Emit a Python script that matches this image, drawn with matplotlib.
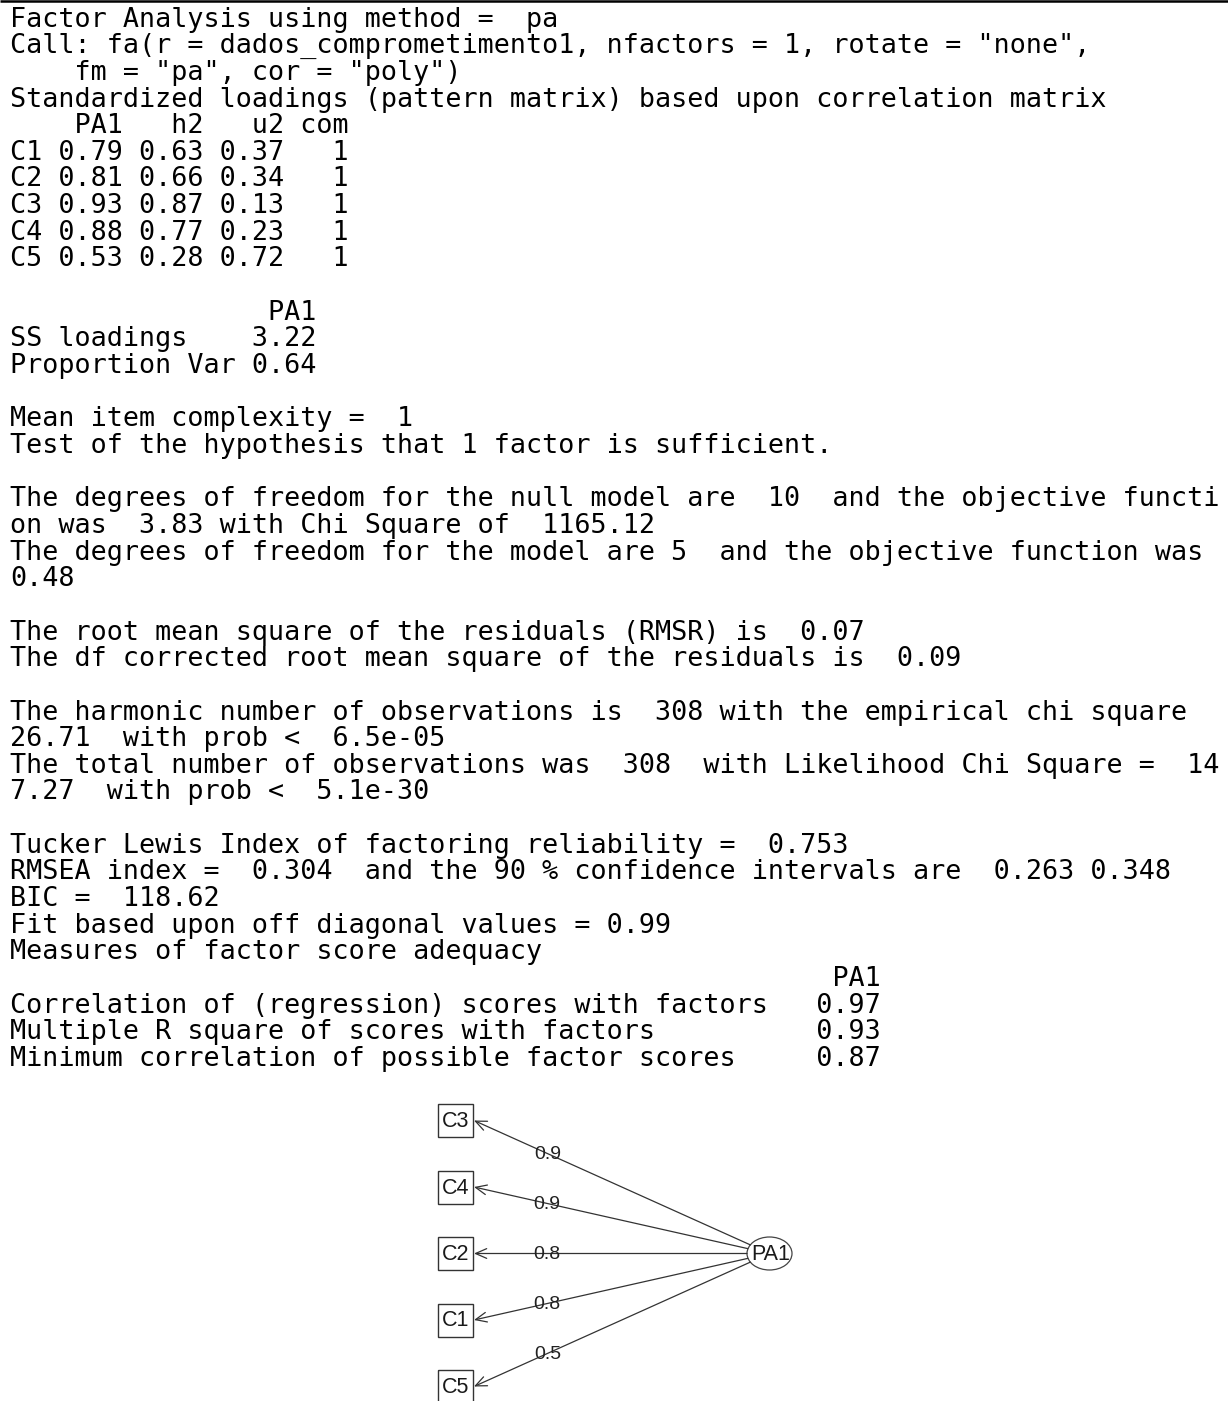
"""Console-style report of a one-factor PA solution with its path diagram."""

import matplotlib

matplotlib.use("Agg")
import matplotlib.pyplot as plt
from matplotlib.patches import Rectangle, Ellipse
import numpy as np

# loadings table
items = ["C1", "C2", "C3", "C4", "C5"]
pa1 = [0.79, 0.81, 0.93, 0.88, 0.53]
h2 = [0.63, 0.66, 0.87, 0.77, 0.28]
u2 = [0.37, 0.34, 0.13, 0.23, 0.72]
com = [1, 1, 1, 1, 1]

ss_loadings = 3.22
prop_var = 0.64

# factor score adequacy
adequacy_labels = [
    "Correlation of (regression) scores with factors",
    "Multiple R square of scores with factors",
    "Minimum correlation of possible factor scores",
]
adequacy_values = [0.97, 0.93, 0.87]

W, H = 1228, 1401
MONO = "DejaVu Sans Mono"
SANS = "Liberation Sans"

lines = [
    "Factor Analysis using method =  pa",
    'Call: fa(r = dados_comprometimento1, nfactors = 1, rotate = "none",',
    '    fm = "pa", cor = "poly")',
    "Standardized loadings (pattern matrix) based upon correlation matrix",
    "    PA1   h2   u2 com",
]
for it, a, b, c, d in zip(items, pa1, h2, u2, com):
    lines.append(f"{it} {a:.2f} {b:.2f} {c:.2f}   {d}")
lines += [
    "",
    "                PA1",
    f"SS loadings    {ss_loadings:.2f}",
    f"Proportion Var {prop_var:.2f}",
    "",
    "Mean item complexity =  1",
    "Test of the hypothesis that 1 factor is sufficient.",
    "",
    "The degrees of freedom for the null model are  10  and the objective functi",
    "on was  3.83 with Chi Square of  1165.12",
    "The degrees of freedom for the model are 5  and the objective function was",
    "0.48",
    "",
    "The root mean square of the residuals (RMSR) is  0.07",
    "The df corrected root mean square of the residuals is  0.09",
    "",
    "The harmonic number of observations is  308 with the empirical chi square",
    "26.71  with prob <  6.5e-05",
    "The total number of observations was  308  with Likelihood Chi Square =  14",
    "7.27  with prob <  5.1e-30",
    "",
    "Tucker Lewis Index of factoring reliability =  0.753",
    "RMSEA index =  0.304  and the 90 % confidence intervals are  0.263 0.348",
    "BIC =  118.62",
    "Fit based upon off diagonal values = 0.99",
    "Measures of factor score adequacy",
    " " * 51 + "PA1",
]
for lab, val in zip(adequacy_labels, adequacy_values):
    lines.append(lab.ljust(50) + f"{val:.2f}")

fig = plt.figure(figsize=(W / 100, H / 100), dpi=100)
ax = fig.add_axes([0, 0, 1, 1])
ax.set_xlim(0, W)
ax.set_ylim(H, 0)
ax.axis("off")

# frame edge along the top
ax.plot([0, W], [1.2, 1.2], color="black", lw=1.8, solid_capstyle="butt")

base, step = 26.6, 26.65
for n, line in enumerate(lines):
    ax.text(10, base + n * step, line, fontfamily=MONO, fontsize=19.3,
            va="baseline", ha="left", color="black")

# path diagram: items sorted by loading, arrows from PA1
order = np.argsort(-np.array(pa1), kind="stable")
box_x0, box_w, box_h = 438, 35, 33
box_top0, box_gap = 1104, 66.5
ecx, ecy, ew, eh = 769.5, 1253.5, 45, 33

ax.add_patch(Ellipse((ecx, ecy), ew, eh, fill=False, ec="#444444", lw=0.9))
ax.text(ecx + 1, ecy + 1, "PA1", fontfamily=SANS, fontsize=15.5,
        ha="center", va="center", color="#1a1a1a")

for i, idx in enumerate(order):
    top = box_top0 + i * box_gap
    yc = top + box_h / 2
    ax.add_patch(Rectangle((box_x0, top), box_w, box_h, fill=False,
                           ec="#333333", lw=1.0))
    ax.text(box_x0 + box_w / 2, yc + 1, items[idx], fontfamily=SANS,
            fontsize=15.5, ha="center", va="center", color="#1a1a1a")

    tip = np.array([box_x0 + box_w + 1, yc])
    d = tip - np.array([ecx, ecy])
    t = 1 / np.sqrt((d[0] / (ew / 2)) ** 2 + (d[1] / (eh / 2)) ** 2)
    start = np.array([ecx, ecy]) + d * t
    ax.annotate("", xy=tip, xytext=start,
                arrowprops=dict(arrowstyle="->,head_length=0.8,head_width=0.35",
                                color="#333333", lw=0.9, shrinkA=0, shrinkB=0))
    lab = tip + 0.267 * (start - tip)
    ax.text(lab[0], lab[1] + 1, f"{round(pa1[idx], 1):.1f}",
            fontfamily=SANS, fontsize=14, ha="center",
            va="center", color="#222222")

fig.savefig("out.png", dpi=100)
